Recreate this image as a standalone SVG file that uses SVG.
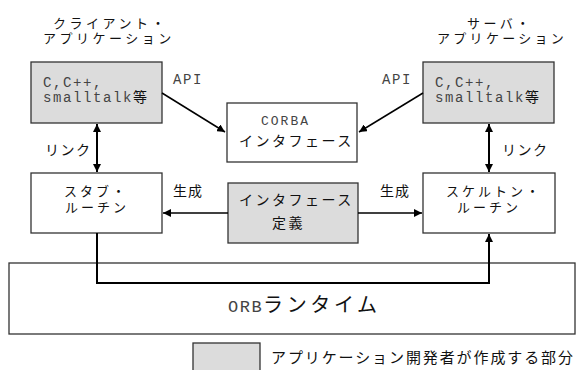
<svg xmlns="http://www.w3.org/2000/svg" width="576" height="370" viewBox="0 0 576 370">
<defs>
<style>
.box{fill:#ffffff;stroke:#333333;stroke-width:1.3}
.gbox{fill:#dcdcdc;stroke:#333333;stroke-width:1.3}
.jp{font-family:"Liberation Sans","Noto Sans CJK JP",sans-serif;font-size:14px;letter-spacing:2.5px;fill:#111111}
.jp2{font-family:"Liberation Sans","Noto Sans CJK JP",sans-serif;font-size:13px;letter-spacing:3.3px;fill:#111111}
.mono{font-family:"Liberation Mono","DejaVu Sans Mono",monospace;font-size:14px;letter-spacing:1.6px;fill:#444444}
.conn{fill:none;stroke:#000000;stroke-width:2}
.thin{fill:none;stroke:#000000;stroke-width:1.5}
</style>
<marker id="ah" viewBox="0 0 10 10" refX="10" refY="5" markerWidth="8" markerHeight="8" markerUnits="userSpaceOnUse" orient="auto-start-reverse">
<path d="M0,0 L10,5 L0,10 z" fill="#000000"/>
</marker>
</defs>
<rect width="576" height="370" fill="#ffffff"/>

<g id="title-client">
<text class="jp2" x="53" y="28" style="letter-spacing:3.5px">クライアント・</text>
<text class="jp2" x="43" y="43" style="letter-spacing:3.5px">アプリケーション</text>
</g>
<g id="title-server">
<text class="jp2" x="467" y="28" style="letter-spacing:3.5px">サーバ・</text>
<text class="jp2" x="437" y="43" style="letter-spacing:3.3px">アプリケーション</text>
</g>

<g id="orb">
<rect class="box" x="9" y="263" width="566" height="71"/>
<text x="228" y="312"><tspan class="mono" style="font-size:17px;letter-spacing:1.5px">ORB</tspan><tspan class="jp" style="font-size:20px;letter-spacing:3.6px">ランタイム</tspan></text>
</g>

<g id="client-app">
<rect class="gbox" x="31" y="62" width="131" height="61"/>
<text class="mono" x="43" y="87">C,C++,</text>
<text class="mono" x="43" y="102">smalltalk<tspan class="jp" style="letter-spacing:0">等</tspan></text>
</g>
<g id="server-app">
<rect class="gbox" x="423" y="62" width="131" height="61"/>
<text class="mono" x="435" y="87">C,C++,</text>
<text class="mono" x="435" y="102">smalltalk<tspan class="jp" style="letter-spacing:0">等</tspan></text>
</g>
<g id="corba-if">
<rect class="box" x="227" y="103" width="130" height="59"/>
<text class="mono" x="261" y="125" style="font-size:13px;letter-spacing:2px">CORBA</text>
<text class="jp" x="239" y="146">インタフェース</text>
</g>
<g id="stub">
<rect class="box" x="31" y="173" width="131" height="60"/>
<text class="jp2" x="64" y="196" style="letter-spacing:3px">スタブ・</text>
<text class="jp2" x="65" y="212" style="letter-spacing:3px">ルーチン</text>
</g>
<g id="skeleton">
<rect class="box" x="423" y="173" width="132" height="60"/>
<text class="jp2" x="446" y="196" style="letter-spacing:3px">スケルトン・</text>
<text class="jp2" x="457" y="212" style="letter-spacing:3px">ルーチン</text>
</g>
<g id="if-def">
<rect class="gbox" x="228" y="183" width="130" height="60"/>
<text class="jp" x="239" y="205">インタフェース</text>
<text class="jp" x="272" y="228">定義</text>
</g>

<g id="connectors">
<line class="thin" x1="162" y1="93" x2="225" y2="132" marker-end="url(#ah)"/>
<line class="thin" x1="423" y1="93" x2="359" y2="132" marker-end="url(#ah)"/>
<line class="conn" x1="97" y1="124" x2="97" y2="172" marker-start="url(#ah)" marker-end="url(#ah)"/>
<line class="conn" x1="489" y1="124" x2="489" y2="172" marker-start="url(#ah)" marker-end="url(#ah)"/>
<line class="thin" x1="228" y1="213" x2="163" y2="213" marker-end="url(#ah)"/>
<line class="thin" x1="358" y1="213" x2="422" y2="213" marker-end="url(#ah)"/>
<polyline class="conn" points="97,233 97,283 489,283 489,234" marker-end="url(#ah)"/>
<text class="mono" x="173" y="84">API</text>
<text class="mono" x="382" y="84">API</text>
<text class="jp" x="173" y="196" style="letter-spacing:1px">生成</text>
<text class="jp" x="380" y="196" style="letter-spacing:1px">生成</text>
<text class="jp" x="45" y="155" style="letter-spacing:1.5px">リンク</text>
<text class="jp" x="502" y="155" style="letter-spacing:1.5px">リンク</text>
</g>

<g id="legend">
<rect class="gbox" x="193" y="343" width="67" height="30"/>
<text class="jp" x="271" y="363" style="font-size:15px;letter-spacing:1.9px">アプリケーション開発者が作成する部分</text>
</g>
</svg>
